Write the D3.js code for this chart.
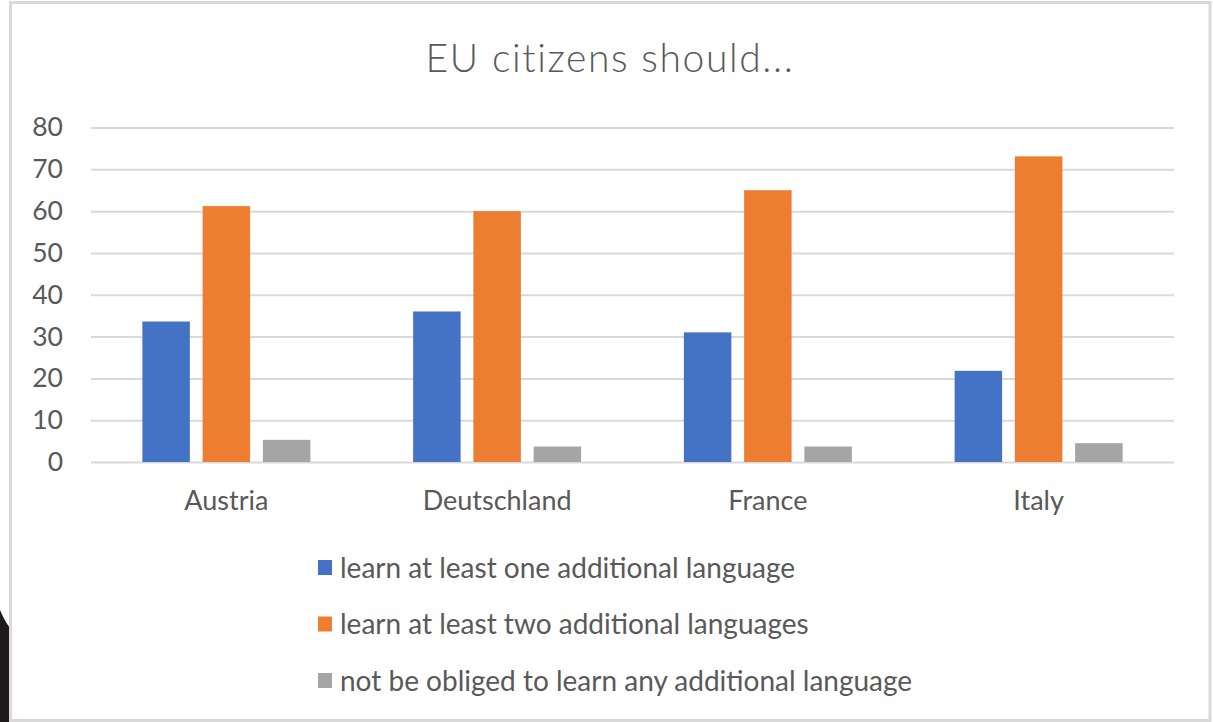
<!DOCTYPE html>
<html>
<head>
<meta charset="utf-8">
<script src="https://cdn.jsdelivr.net/npm/d3@7"></script>
<style>
  html, body { margin: 0; padding: 0; background: #ffffff; }
  svg { display: block; }
  text { font-family: Lato, "Open Sans", sans-serif; fill: #595959; }
</style>
</head>
<body>
<svg id="chart" width="1213" height="722"></svg>
<script>
// Survey shares (%) per country
const categories = ["Austria", "Deutschland", "France", "Italy"];
const seriesNames = [
  "learn at least one additional language",
  "learn at least two additional languages",
  "not be obliged to learn any additional language"
];
const oneLanguage = [33.6, 36.0, 31.0, 21.8];
const twoLanguages = [61.2, 60.0, 65.0, 73.1];
const noObligation = [5.3, 3.7, 3.7, 4.5];
const yTicks = [0, 10, 20, 30, 40, 50, 60, 70, 80];
const titleText = "EU citizens should...";
const seriesColors = ["#4472C4", "#ED7D31", "#A5A5A5"];

const seriesValues = [oneLanguage, twoLanguages, noObligation];
const rows = categories.map((c, i) => ({
  category: c,
  values: seriesValues.map((vals, s) => ({ series: s, value: vals[i] }))
}));

const svg = d3.select("#chart");

// dark shape peeking in at the lower-left edge
svg.append("path")
  .attr("d", "M0,610 C3,617 6,623 10,628 L10,722 L0,722 Z")
  .attr("fill", "#1f1b1d");

// chart frame
svg.append("rect")
  .attr("x", 10.5).attr("y", 2.5)
  .attr("width", 1199.5).attr("height", 718)
  .attr("fill", "#ffffff")
  .attr("stroke", "#d9d9d9")
  .attr("stroke-width", 3);

const plot = { left: 91, right: 1174, top: 127.5, bottom: 462 };

const y = d3.scaleLinear().domain([0, 80]).range([plot.bottom, plot.top]);
const x0 = d3.scaleBand().domain(categories).range([plot.left, plot.right]).padding(0);
const groupWidth = 168;
const x1 = d3.scaleBand().domain(d3.range(seriesNames.length))
  .range([0, groupWidth]).paddingInner(0.212).paddingOuter(0);

// gridlines and value labels
const yAxis = d3.axisLeft(y).tickValues(yTicks)
  .tickSize(-(plot.right - plot.left)).tickPadding(28);
const gY = svg.append("g")
  .attr("transform", `translate(${plot.left},0)`)
  .call(yAxis);
gY.select(".domain").remove();
gY.selectAll(".tick line").attr("stroke", "#d9d9d9").attr("stroke-width", 2);
gY.selectAll(".tick text")
  .attr("font-size", 26.5)
  .attr("fill", "#595959")
  .style("font-family", "Lato, sans-serif");

// bars
const groups = svg.append("g").selectAll("g")
  .data(rows).join("g")
  .attr("transform", d => `translate(${x0(d.category) + (x0.bandwidth() - groupWidth) / 2},0)`);

groups.selectAll("rect")
  .data(d => d.values).join("rect")
  .attr("x", d => x1(d.series))
  .attr("y", d => y(d.value))
  .attr("width", x1.bandwidth())
  .attr("height", d => y(0) - y(d.value))
  .attr("fill", d => seriesColors[d.series]);

// category axis labels
const xAxis = d3.axisBottom(x0).tickSize(0).tickPadding(29);
const gX = svg.append("g")
  .attr("transform", `translate(0,${plot.bottom})`)
  .call(xAxis);
gX.select(".domain").remove();
gX.selectAll(".tick text")
  .attr("font-size", 27)
  .attr("fill", "#595959")
  .style("font-family", "Lato, sans-serif");

// title
svg.append("text")
  .attr("x", 610).attr("y", 72)
  .attr("text-anchor", "middle")
  .attr("font-size", 39)
  .attr("letter-spacing", 1.6)
  .style("font-weight", 300)
  .text(titleText);

// legend
const legend = svg.append("g").selectAll("g")
  .data(seriesNames).join("g")
  .attr("transform", (d, i) => `translate(318,${568 + i * 56.5})`);
legend.append("rect")
  .attr("x", 0).attr("y", -8)
  .attr("width", 14).attr("height", 15)
  .attr("fill", (d, i) => seriesColors[i]);
legend.append("text")
  .attr("x", 22).attr("y", 0)
  .attr("dy", "0.35em")
  .attr("font-size", 28)
  .text(d => d);
</script>
</body>
</html>
